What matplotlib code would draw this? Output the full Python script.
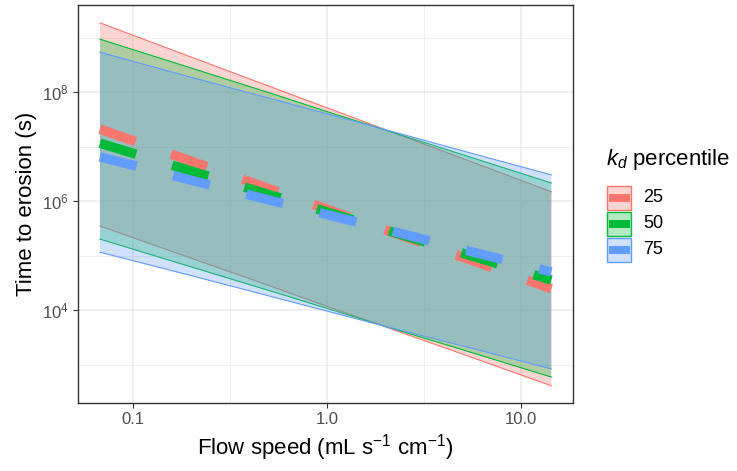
import matplotlib.pyplot as plt
from matplotlib.patches import Rectangle
from matplotlib.lines import Line2D
from matplotlib.ticker import FixedLocator, NullFormatter

plt.rcParams['font.family'] = ['Liberation Sans', 'DejaVu Sans']
plt.rcParams['mathtext.fontset'] = 'custom'
plt.rcParams['mathtext.rm'] = 'Liberation Sans'
plt.rcParams['mathtext.it'] = 'Liberation Sans:italic'

# flow speed (mL s^-1 cm^-1)
flow = [0.0676, 0.2, 0.5, 1.0, 2.0, 5.0, 14.3]
percentiles = ["25", "50", "75"]
colors = ["#F8766D", "#00BA38", "#619CFF"]

# time to erosion (s): central estimate and ribbon bounds per k_d percentile
mid_25 = [2.09e7, 5.37e6, 1.70e6, 7.08e5, 2.95e5, 9.33e4, 2.45e4]
mid_50 = [1.15e7, 3.55e6, 1.32e6, 6.31e5, 2.95e5, 1.10e5, 3.55e4]
mid_75 = [6.46e6, 2.40e6, 1.05e6, 5.62e5, 3.02e5, 1.29e5, 5.01e4]

hi_25 = [1.86e9, 4.37e8, 1.29e8, 5.13e7, 2.04e7, 6.03e6, 1.48e6]
hi_50 = [9.33e8, 2.75e8, 9.77e7, 4.37e7, 2.00e7, 7.08e6, 2.14e6]
hi_75 = [5.37e8, 1.86e8, 7.76e7, 3.98e7, 2.04e7, 8.32e6, 3.02e6]

lo_25 = [3.47e5, 8.91e4, 2.82e4, 1.17e4, 4.90e3, 1.55e3, 407]
lo_50 = [2.00e5, 6.17e4, 2.29e4, 1.07e4, 5.01e3, 1.86e3, 589]
lo_75 = [1.15e5, 4.27e4, 1.82e4, 9.55e3, 5.01e3, 2.19e3, 832]

mids = [mid_25, mid_50, mid_75]
his = [hi_25, hi_50, hi_75]
los = [lo_25, lo_50, lo_75]

fig = plt.figure(figsize=(7.37, 4.71), dpi=100)
ax = fig.add_axes([0.1058, 0.1444, 0.6717, 0.845])
ax.set_xscale('log')
ax.set_yscale('log')

# ribbons with outlines
for i, c in enumerate(colors):
    ax.fill_between(flow, los[i], his[i], facecolor=c, alpha=0.3,
                    edgecolor='none', zorder=2 + i)
    ax.plot(flow, his[i], color=c, lw=0.8, zorder=2 + i)
    ax.plot(flow, los[i], color=c, lw=0.8, zorder=2 + i)

# dashed central lines
for i, c in enumerate(colors):
    ax.plot(flow, mids[i], color=c, lw=6.8, linestyle=(0, (4, 4)),
            dash_capstyle='butt', zorder=6 + i)

ax.set_xlim(0.0521, 18.5)
ax.set_ylim(197, 3.95e9)

ax.xaxis.set_major_locator(FixedLocator([0.1, 1.0, 10.0]))
ax.set_xticklabels(["0.1", "1.0", "10.0"])
ax.xaxis.set_minor_locator(FixedLocator([10 ** -0.5, 10 ** 0.5]))
ax.xaxis.set_minor_formatter(NullFormatter())
ax.yaxis.set_major_locator(FixedLocator([1e4, 1e6, 1e8]))
ax.set_yticklabels(["$10^4$", "$10^6$", "$10^8$"])
ax.yaxis.set_minor_locator(FixedLocator([1e3, 1e5, 1e7, 1e9]))
ax.yaxis.set_minor_formatter(NullFormatter())

ax.grid(which='major', color='#EBEBEB', lw=1.1, zorder=0)
ax.grid(which='minor', color='#EBEBEB', lw=0.6, zorder=0)
ax.set_axisbelow(True)
ax.tick_params(which='major', direction='out', length=3.5, width=0.8,
               color='#333333', labelcolor='#4D4D4D', labelsize=12, pad=3)
ax.tick_params(which='minor', length=0)
for s in ax.spines.values():
    s.set_color('#333333')
    s.set_linewidth(1.0)

ax.set_xlabel("Flow speed (mL s$^{-1}$ cm$^{-1}$)", fontsize=16, labelpad=4)
ax.set_ylabel("Time to erosion (s)", fontsize=16, labelpad=4)

# legend drawn in figure pixel coordinates
lax = fig.add_axes([0, 0, 1, 1])
lax.set_xlim(0, 737)
lax.set_ylim(471, 0)
lax.axis('off')
lax.text(606, 160, "$k_d$ percentile", fontsize=16, va='center', ha='left')
for i, (c, lab) in enumerate(zip(colors, percentiles)):
    top = 185 + 26 * i
    lax.add_patch(Rectangle((607.5, top + 0.5), 24, 24, facecolor=c,
                            alpha=0.3, edgecolor='none'))
    lax.add_patch(Rectangle((607.5, top + 0.5), 24, 24, facecolor='none',
                            edgecolor=c, lw=1.0))
    lax.add_line(Line2D([609, 630], [top + 12.5, top + 12.5], color=c,
                        lw=5.8, solid_capstyle='butt'))
    lax.text(643, top + 13, lab, fontsize=13, va='center', ha='left')

fig.savefig("out.png", dpi=100)
